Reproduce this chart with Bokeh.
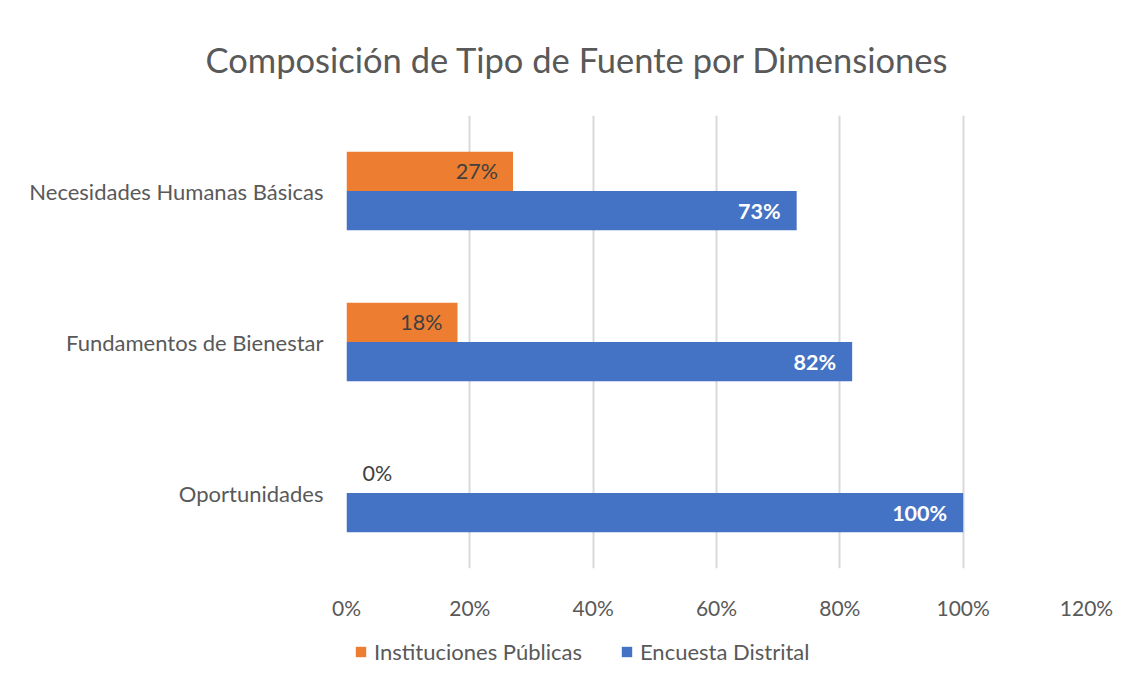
from bokeh.plotting import figure
from bokeh.layouts import column
from bokeh.models import ColumnDataSource, FactorRange, Legend, LegendItem, NumeralTickFormatter, FixedTicker, Range1d
from bokeh.transform import dodge
from bokeh.embed import file_html
from bokeh.resources import INLINE
from bokeh.core.properties import value

categories = ["Oportunidades", "Fundamentos de Bienestar", "Necesidades Humanas Básicas"]
instituciones = [0.00, 0.18, 0.27]
encuesta = [1.00, 0.82, 0.73]
series_names = ["Instituciones Públicas", "Encuesta Distrital"]
x_ticks = [0, 0.2, 0.4, 0.6, 0.8, 1.0, 1.2]

FONT = "Lato"
GRAY = "#595959"
ORANGE = "#ED7D31"
BLUE = "#4472C4"

src = ColumnDataSource(data=dict(
    cat=categories,
    inst=instituciones,
    enc=encuesta,
    enc_lbl=[f"{round(v*100)}%" for v in encuesta],
))

p = figure(width=1126, height=628, y_range=FactorRange(*categories), x_range=Range1d(0, 1.2),
           output_backend="svg", toolbar_location=None,
           min_border_left=346, min_border_right=40, min_border_top=113, min_border_bottom=60)

p.title.text = "Composición de Tipo de Fuente por Dimensiones"
p.title.text_font = FONT
p.title.text_font_size = "34.5px"
p.title.text_font_style = "normal"
p.title.text_color = GRAY
p.title.align = "left"
p.title.offset = -141
p.title.standoff = 72

p.outline_line_color = None
p.background_fill_color = "white"
p.border_fill_color = "white"

bw = 0.26
r1 = p.hbar(y=dodge("cat", bw/2, range=p.y_range), right="inst", left=0, height=bw, source=src,
            fill_color=ORANGE, line_color=None)
r2 = p.hbar(y=dodge("cat", -bw/2, range=p.y_range), right="enc", left=0, height=bw, source=src,
            fill_color=BLUE, line_color=None)

pos = [i for i, v in enumerate(instituciones) if v > 0]
zero = [i for i, v in enumerate(instituciones) if v <= 0]
src_pos = ColumnDataSource(data=dict(cat=[categories[i] for i in pos], x=[instituciones[i] for i in pos],
                                     t=[f"{round(instituciones[i]*100)}%" for i in pos]))
src_zero = ColumnDataSource(data=dict(cat=[categories[i] for i in zero], x=[instituciones[i] for i in zero],
                                      t=[f"{round(instituciones[i]*100)}%" for i in zero]))
p.text(x="x", y=dodge("cat", bw/2, range=p.y_range), text="t", source=src_pos,
       text_align="right", text_baseline="middle", x_offset=-15,
       text_font=value(FONT), text_font_size="21.5px", text_color="#404040")
p.text(x="x", y=dodge("cat", bw/2, range=p.y_range), text="t", source=src_zero,
       text_align="left", text_baseline="middle", x_offset=16,
       text_font=value(FONT), text_font_size="21.5px", text_color="#404040")
p.text(x="enc", y=dodge("cat", -bw/2, range=p.y_range), text="enc_lbl", source=src,
       text_align="right", text_baseline="middle", x_offset=-16,
       text_font=value(FONT), text_font_size="21.5px", text_font_style="bold", text_color="white")

p.xaxis.ticker = FixedTicker(ticks=x_ticks)
p.xaxis.formatter = NumeralTickFormatter(format="0%")
for ax in (p.xaxis[0], p.yaxis[0]):
    ax.axis_line_color = None
    ax.major_tick_line_color = None
    ax.minor_tick_line_color = None
    ax.major_label_text_font = FONT
    ax.major_label_text_color = GRAY
p.xaxis.major_label_text_font_size = "21px"
p.yaxis.major_label_text_font_size = "22px"
p.xaxis.major_label_standoff = 20
p.yaxis.major_label_standoff = 17

p.xgrid.grid_line_color = "#d9d9d9"
p.xgrid.grid_line_width = 2
p.ygrid.grid_line_color = None

# legend strip below the chart (frame aligned with the chart frame)
lg = figure(width=1126, height=52, output_backend="svg", toolbar_location=None,
            min_border_left=346, min_border_right=40, min_border_top=0, min_border_bottom=0,
            x_range=Range1d(0, 1), y_range=Range1d(0, 1))
lg.outline_line_color = None
lg.axis.visible = False
lg.grid.grid_line_color = None
lg.border_fill_color = "white"
# zero-size proxy glyphs that only supply the legend swatches
k1 = lg.hbar(y=[0], left=[0], right=[0], height=0, fill_color=ORANGE, line_color=None)
k2 = lg.hbar(y=[0], left=[0], right=[0], height=0, fill_color=BLUE, line_color=None)
legend = Legend(items=[LegendItem(label=series_names[0], renderers=[k1]),
                       LegendItem(label=series_names[1], renderers=[k2])],
                orientation="horizontal", location=(8, 15),
                glyph_width=13, glyph_height=13, label_standoff=7, spacing=38,
                label_text_font=FONT, label_text_font_size="22px", label_text_color=GRAY,
                border_line_color=None, background_fill_alpha=0, padding=0, margin=0)
lg.add_layout(legend, "center")

layout = column(p, lg, spacing=0)
open("out.html", "w").write(file_html(layout, INLINE))
